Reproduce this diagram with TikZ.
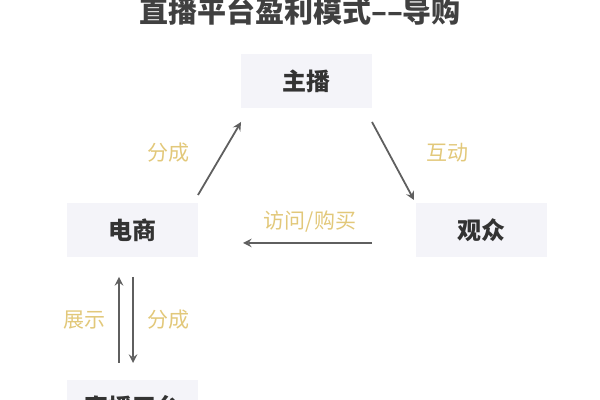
\documentclass[tikz,border=0pt]{standalone}
\usepackage{fontspec}
\setmainfont{Noto Sans CJK SC}
\usepackage{tikz}
\usetikzlibrary{arrows,positioning,calc}
\definecolor{boxfill}{RGB}{244,244,249}
\definecolor{labgold}{RGB}{226,200,122}
\definecolor{arrgray}{RGB}{95,95,95}
\tikzstyle{box}=[fill=boxfill,minimum width=65.5pt,minimum height=27pt,inner sep=0pt,font=\fontsize{12}{12}\selectfont\bfseries,text=black!80]
\tikzstyle{lab}=[text=labgold,font=\fontsize{10.5}{10.5}\selectfont]
\tikzstyle{conn}=[draw=arrgray,line width=0.9pt,-stealth]

\begin{document}
\begin{tikzpicture}[x=0.5pt,y=-0.5pt]
\useasboundingbox (0,0) rectangle (600,400);
\node [font=\fontsize{14.5}{14.5}\selectfont\bfseries,text=black!75] (title) at (300,11) {直播平台盈利模式{--}{--}导购};
\node [box] (zhubo) at (306,81) {主播};
\node [box] (guanzhong) at (481,230) {观众};
\node [box] (dianshang) at (132,230) {电商};
\node [box] (pingtai) at (132,407) {直播平台};
% arrows
\draw [conn] (198,195) -- (241,122);
\node [lab] (fencheng1) at (168,153) {分成};
\draw [conn] (372,122) -- (414,200);
\node [lab] (hudong) at (447,153) {互动};
\draw [conn] (372,243) -- (243,243);
\node [lab] (fangwen) at (310,222) {访问/购买};
\draw [conn] (119,363) -- (119,277);
\draw [conn] (133,277) -- (133,363);
\node [lab] (zhanshi) at (84,320) {展示};
\node [lab] (fencheng2) at (168,320) {分成};
\end{tikzpicture}
\end{document}
